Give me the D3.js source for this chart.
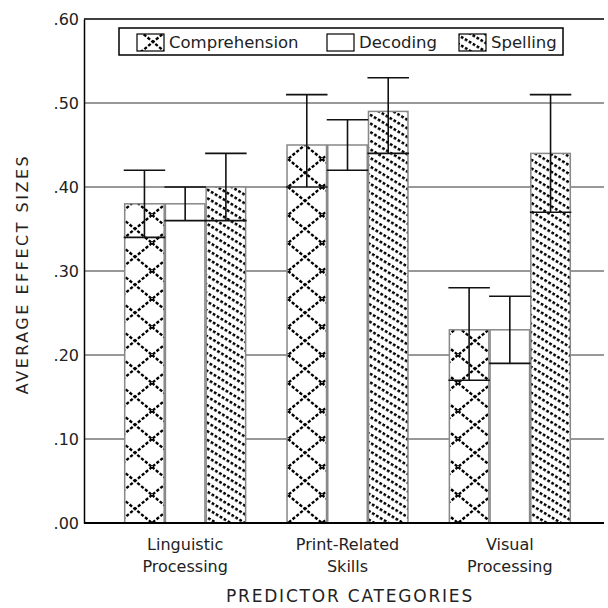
<!DOCTYPE html>
<html>
<head>
<meta charset="utf-8">
<script src="https://cdn.jsdelivr.net/npm/d3@7"></script>
<style>
  body { margin: 0; background: #fff; }
  text { font-family: "DejaVu Sans", sans-serif; fill: #222; }
</style>
</head>
<body>
<div id="chart"></div>
<script>
const categories = ["Linguistic Processing", "Print-Related Skills", "Visual Processing"];
const series = ["Comprehension", "Decoding", "Spelling"];

// mean effect sizes and the ends of each error bar
const comprehension = [0.38, 0.45, 0.23];
const comprehensionLow = [0.34, 0.40, 0.17];
const comprehensionHigh = [0.42, 0.51, 0.28];

const decoding = [0.38, 0.45, 0.23];
const decodingLow = [0.36, 0.42, 0.19];
const decodingHigh = [0.40, 0.48, 0.27];

const spelling = [0.40, 0.49, 0.44];
const spellingLow = [0.36, 0.44, 0.37];
const spellingHigh = [0.44, 0.53, 0.51];

const yTicks = [0, 0.1, 0.2, 0.3, 0.4, 0.5, 0.6];

const margin = { top: 19, right: 4, bottom: 85, left: 84 };
const width = 608 - margin.left - margin.right;
const height = 608 - margin.top - margin.bottom;

const values = [comprehension, decoding, spelling];
const lows = [comprehensionLow, decodingLow, spellingLow];
const highs = [comprehensionHigh, decodingHigh, spellingHigh];

const data = categories.flatMap((c, i) => series.map((s, j) => ({
    cat: c, series: s, value: values[j][i], low: lows[j][i], high: highs[j][i]
})));

const x0 = d3.scaleBand().domain(categories).range([20, 507])
    .paddingInner(0.255).paddingOuter(0.1275);
const x1 = d3.scaleBand().domain(series).range([0, x0.bandwidth()]).paddingInner(0.03);
const y = d3.scaleLinear().domain([0, 0.6]).range([height, 0]);

const svg = d3.select("#chart").append("svg")
    .attr("width", 608).attr("height", 608);

// Wzory wypełnień
const defs = svg.append("defs");
const cross = defs.append("pattern")
    .attr("id", "pat-comprehension")
    .attr("patternUnits", "userSpaceOnUse")
    .attr("width", 34).attr("height", 28);
cross.append("rect").attr("width", 34).attr("height", 28).attr("fill", "#fff");
cross.append("path")
    .attr("d", "M0,0L34,28M34,0L0,28")
    .attr("stroke", "#000").attr("stroke-width", 2.4)
    .attr("stroke-dasharray", "3.2,1.8").attr("fill", "none");

const diag = defs.append("pattern")
    .attr("id", "pat-spelling")
    .attr("patternUnits", "userSpaceOnUse")
    .attr("width", 4.6).attr("height", 7.4)
    .attr("patternTransform", "rotate(31)");
diag.append("rect").attr("width", 4.6).attr("height", 7.4).attr("fill", "#fff");
diag.append("rect").attr("width", 2.8).attr("height", 2.5).attr("fill", "#000");

const fills = {
    Comprehension: "url(#pat-comprehension)",
    Decoding: "#fff",
    Spelling: "url(#pat-spelling)"
};

const g = svg.append("g").attr("transform", `translate(${margin.left},${margin.top})`);

// Siatka
g.append("g").selectAll("line")
    .data(yTicks.filter(d => d > 0 && d < 0.6))
    .join("line")
    .attr("x1", 0).attr("x2", width)
    .attr("y1", d => y(d)).attr("y2", d => y(d))
    .attr("stroke", "#333").attr("stroke-width", 1);

// Słupki
g.append("g").selectAll("rect")
    .data(data)
    .join("rect")
    .attr("x", d => x0(d.cat) + x1(d.series))
    .attr("y", d => y(d.value))
    .attr("width", x1.bandwidth())
    .attr("height", d => y(0) - y(d.value))
    .attr("fill", d => fills[d.series])
    .attr("stroke", "#888").attr("stroke-width", 1.5);

// Słupki błędów
const eb = g.append("g").attr("stroke", "#111").attr("stroke-width", 1.6);
data.forEach(d => {
    const cx = x0(d.cat) + x1(d.series) + x1.bandwidth() / 2;
    const hw = x1.bandwidth() / 2 + 1;
    eb.append("line").attr("x1", cx).attr("x2", cx).attr("y1", y(d.low)).attr("y2", y(d.high));
    eb.append("line").attr("x1", cx - hw).attr("x2", cx + hw).attr("y1", y(d.high)).attr("y2", y(d.high));
    eb.append("line").attr("x1", cx - hw).attr("x2", cx + hw).attr("y1", y(d.low)).attr("y2", y(d.low));
});

// Oś Y
const yAxis = g.append("g")
    .call(d3.axisLeft(y).tickValues(yTicks).tickSize(0).tickPadding(5)
        .tickFormat(d => d3.format(".2f")(d).replace(/^0/, "")));
yAxis.select(".domain").attr("stroke", "#000").attr("stroke-width", 1.5);
yAxis.selectAll("text").style("font-size", "16px").style("font-family", "DejaVu Sans")
    .attr("fill", "#222");

// Górna linia i oś X
g.append("line").attr("x1", 0).attr("x2", width).attr("y1", y(0.6)).attr("y2", y(0.6))
    .attr("stroke", "#000").attr("stroke-width", 1.5);
g.append("line").attr("x1", 0).attr("x2", width).attr("y1", y(0)).attr("y2", y(0))
    .attr("stroke", "#000").attr("stroke-width", 2);

// Etykiety kategorii
categories.forEach(c => {
    const i = c.indexOf(" ");
    const lines = [c.slice(0, i), c.slice(i + 1)];
    const t = g.append("text")
        .attr("x", x0(c) + x0.bandwidth() / 2)
        .attr("y", height + 27)
        .attr("text-anchor", "middle")
        .style("font-size", "16px");
    lines.forEach((l, k) => t.append("tspan")
        .attr("x", x0(c) + x0.bandwidth() / 2)
        .attr("dy", k ? 22 : 0)
        .text(l));
});

// Tytuły osi
g.append("text")
    .attr("x", width / 2 + 6).attr("y", height + 79)
    .attr("text-anchor", "middle")
    .style("font-size", "17px")
    .style("letter-spacing", "1.8px")
    .text("PREDICTOR CATEGORIES");
svg.append("text")
    .attr("transform", `translate(28,${margin.top + height / 2 + 3}) rotate(-90)`)
    .attr("text-anchor", "middle")
    .style("font-size", "16px")
    .style("letter-spacing", "2.5px")
    .text("AVERAGE EFFECT SIZES");

// Legenda
const legend = svg.append("g");
legend.append("rect")
    .attr("x", 119).attr("y", 28).attr("width", 444).attr("height", 27)
    .attr("fill", "#fff").attr("stroke", "#000").attr("stroke-width", 1.5);
const legendX = [137, 327, 459];
series.forEach((s, i) => {
    legend.append("rect")
        .attr("x", legendX[i]).attr("y", 34).attr("width", 27).attr("height", 17)
        .attr("fill", fills[s]).attr("stroke", "#000").attr("stroke-width", 1.2);
    legend.append("text")
        .attr("x", legendX[i] + 32).attr("y", 48)
        .style("font-size", "16.5px")
        .text(s);
});
</script>
</body>
</html>
